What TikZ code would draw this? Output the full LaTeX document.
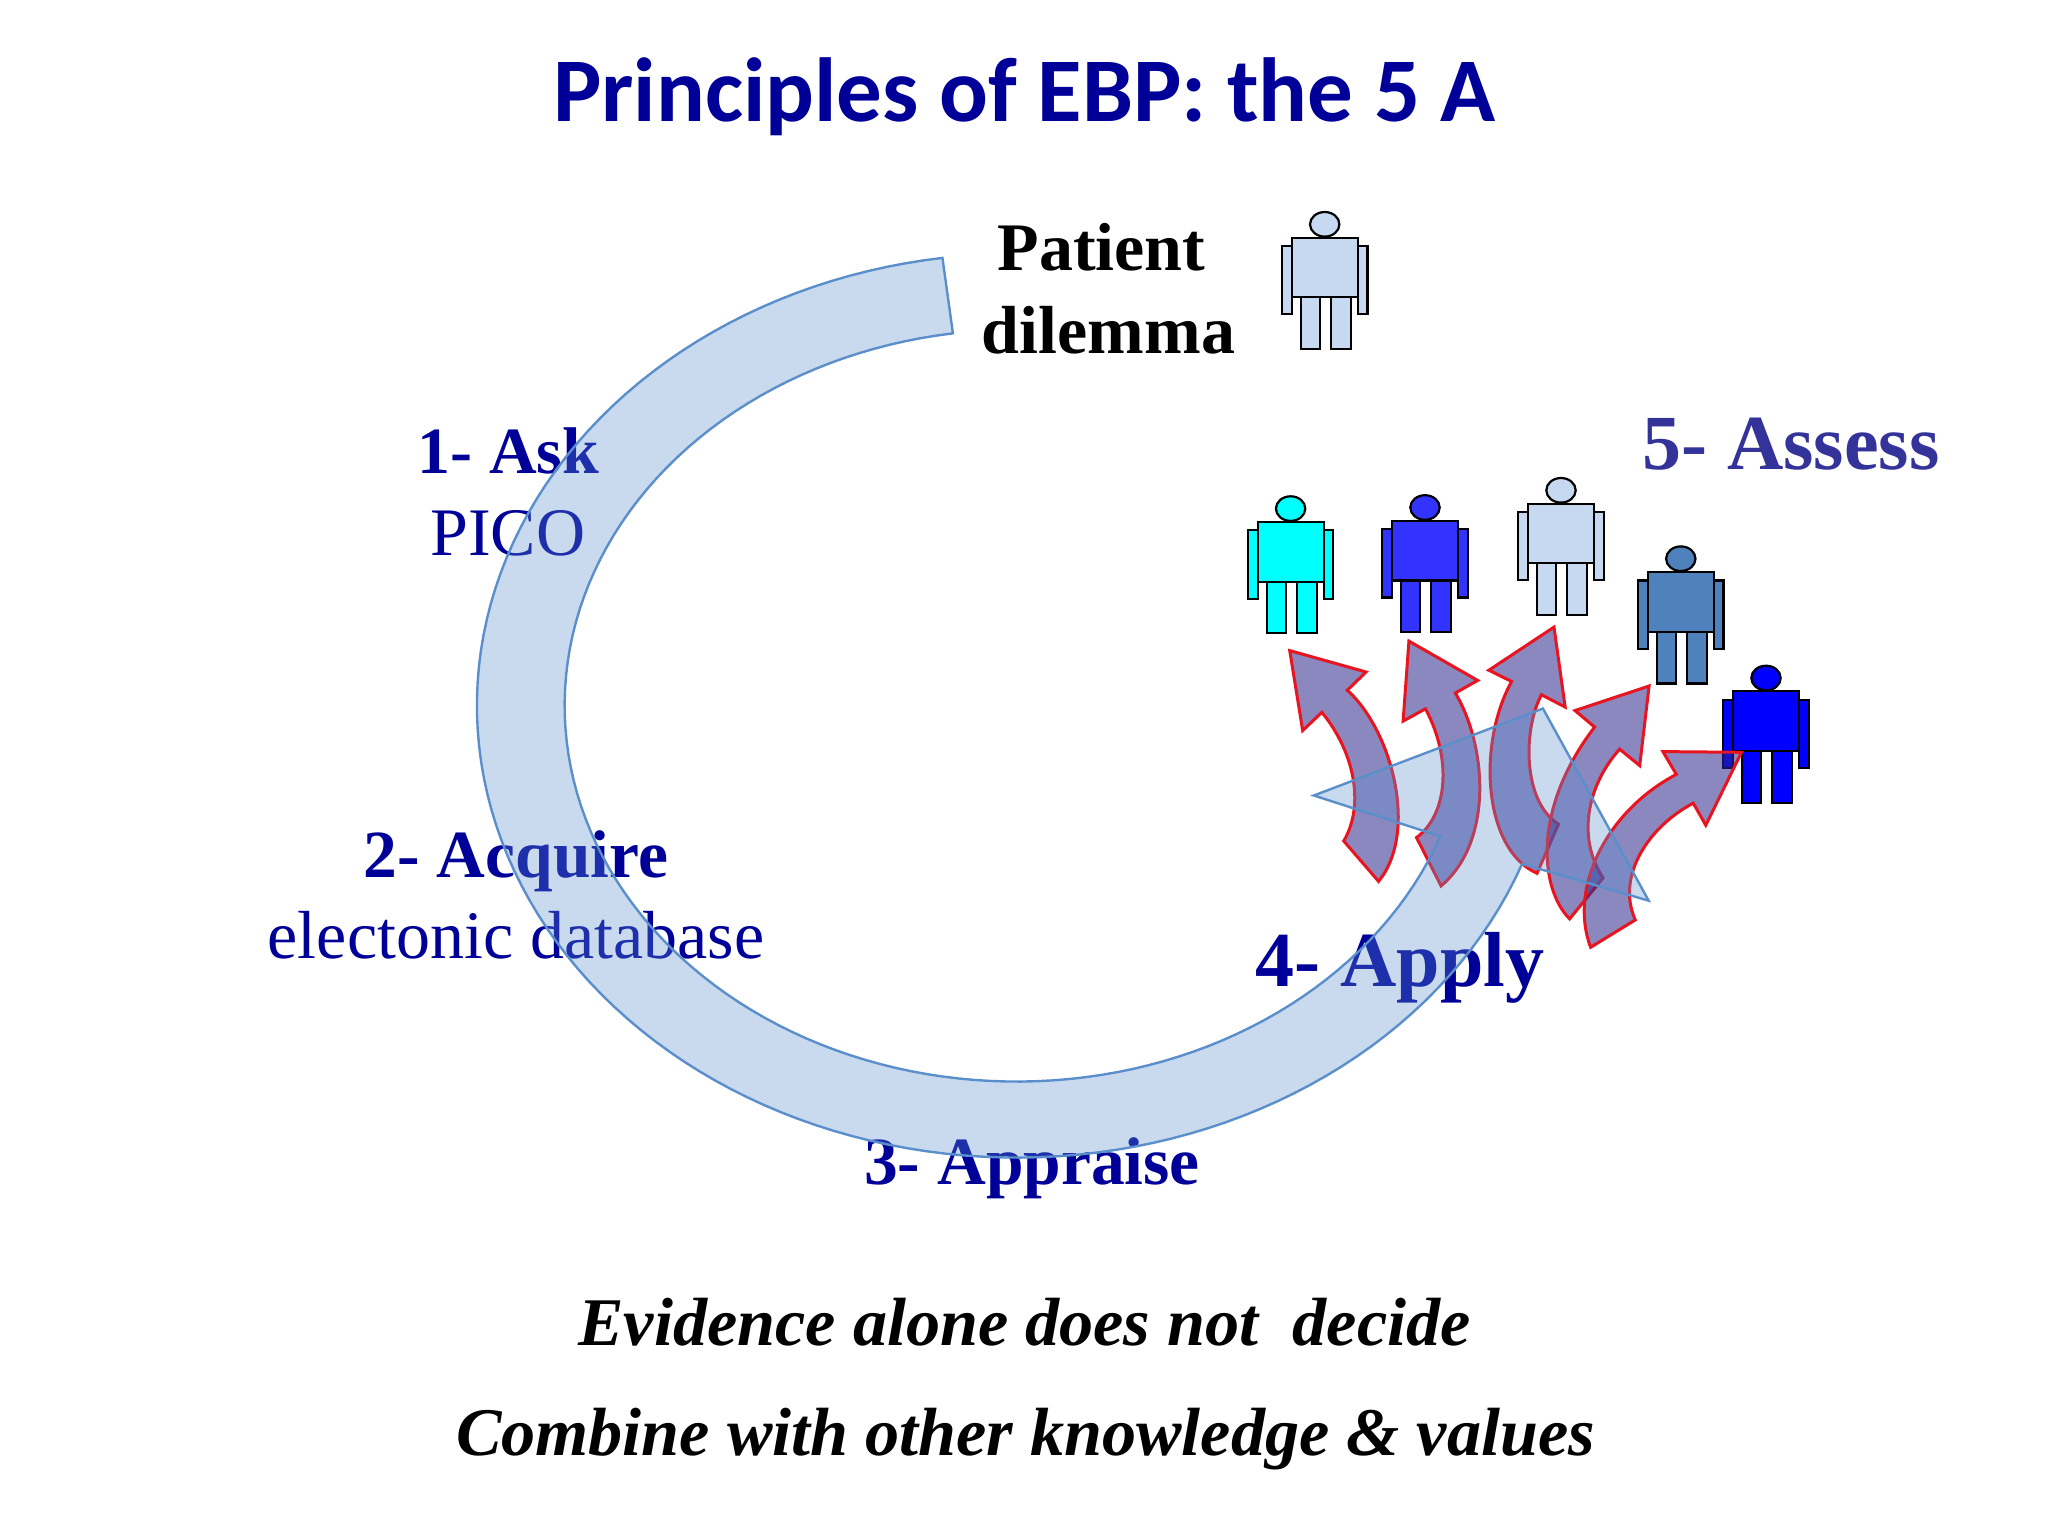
\documentclass[tikz,border=0pt]{standalone}
\usepackage{fontspec}
\setmainfont{Liberation Serif}
\newfontfamily\titlefont{Carlito}
\definecolor{navy}{HTML}{000099}
\definecolor{assess}{HTML}{333399}
\definecolor{ringfill}{HTML}{5E91D1}
\definecolor{ringline}{HTML}{5B8FCB}
\definecolor{arrowred}{HTML}{E8141F}
\definecolor{arrowfill}{HTML}{2A278C}
\definecolor{pcyan}{HTML}{00FFFF}
\definecolor{pblue}{HTML}{3333FF}
\definecolor{psteel}{HTML}{4F81BD}
\definecolor{ppure}{HTML}{0000FF}
\definecolor{ppale}{HTML}{C6D9F0}
\tikzset{
  txt/.style={inner sep=0pt,outer sep=0pt,anchor=base},
  lab/.style={txt,font=\fontsize{67.5}{68}\selectfont\bfseries,text=navy},
  sub/.style={txt,font=\fontsize{68}{68}\selectfont,text=navy},
  blackb/.style={txt,font=\fontsize{68}{68}\selectfont\bfseries,text=black},
  note/.style={txt,font=\fontsize{68.2}{68}\selectfont\bfseries\itshape,text=black},
  ringstyle/.style={fill=ringfill,fill opacity=.33,draw=ringline,draw opacity=1,line width=2.4pt,line join=miter},
  curved/.style={fill=arrowfill,fill opacity=.55,draw=arrowred,draw opacity=1,line width=3pt,line join=miter},
  pics/person/.style={code={
    \draw[fill=#1,draw=black,line width=2.2pt]
      (-42.7,21.7) rectangle (-33,90)
      (33,21.7) rectangle (42.7,90)
      (-24,73) rectangle (-5,124.7)
      (6,73) rectangle (26,124.7)
      (-33,13.3) rectangle (33,73);
    \draw[fill=#1,draw=black,line width=2.2pt] (0,0) ellipse [x radius=14.7pt,y radius=12.3pt];
  }}
}
\begin{document}
\begin{tikzpicture}[x=1pt,y=-1pt]
\useasboundingbox[fill=white] (0,0) rectangle (2048,1536);
% people
\pic at (1324.7,224.3) {person=ppale};
\pic at (1290.6,508.6) {person=pcyan};
\pic at (1425,507.5) {person=pblue};
\pic at (1561,490.3) {person=ppale};
\pic at (1680.8,558.7) {person=psteel};
\pic at (1766,678) {person=ppure};
% texts
\node[txt,font=\titlefont\fontsize{91}{91}\selectfont\bfseries,text=navy] (title) at (1024.5,122) {Principles of EBP: the 5 A};
\node[blackb] (patient) at (1101.5,270.8) {Patient};
\node[blackb] (dilemma) at (1108.5,353) {dilemma};
\node[txt,font=\fontsize{78}{78}\selectfont\bfseries,text=assess] (assess) at (1791,469) {5- Assess};
\node[txt,font=\fontsize{66}{66}\selectfont\bfseries,text=navy] (ask) at (508.5,473.5) {1- Ask};
\node[sub] (pico) at (508,555) {PICO};
\node[lab] (acquire) at (516,877) {2- Acquire};
\node[sub] (db) at (516,958.8) {electonic database};
\node[lab] (appraise) at (1032,1184) {3- Appraise};
\node[txt,font=\fontsize{78}{78}\selectfont\bfseries,text=navy] (apply) at (1400,986) {4- Apply};
\node[note] (n1) at (1024.5,1345) {Evidence alone does not\ \ decide};
\node[note] (n2) at (1025.5,1455) {Combine with other knowledge \& values};
% curved arrows, given in a local frame
\begin{scope}[xshift=1200pt,yshift=-450pt,x=.4464pt,y=-.3507pt]
\filldraw[curved] (201,572) -- (372,633) -- (330,685) .. controls (430,800) and (490,1090) .. (400,1230)
  -- (322,1115) .. controls (370,1010) and (345,860) .. (273,748) -- (230,800) -- cycle;
\filldraw[curved] (468,545) -- (622,657) -- (572,693) .. controls (645,850) and (655,1120) .. (540,1243)
  -- (485,1105) .. controls (555,1040) and (565,880) .. (505,738) -- (455,773) -- cycle;
\filldraw[curved] (793,505) -- (818,733) -- (765,698) .. controls (725,790) and (720,1000) .. (803,1067)
  -- (755,1207) .. controls (635,1140) and (620,840) .. (698,660) -- (647,628) -- cycle;
\filldraw[curved] (1006,673) -- (985,900) -- (940,853) .. controls (865,960) and (845,1110) .. (903,1220)
  -- (828,1337) .. controls (760,1250) and (745,1020) .. (884,790) -- (840,743) -- cycle;
\filldraw[curved] (1213,862) -- (1133,1070) -- (1105,1007) .. controls (1010,1070) and (930,1210) .. (975,1340)
  -- (875,1418) .. controls (825,1250) and (910,1030) .. (1067,925) -- (1037,860) -- cycle;
\end{scope}
% ring with arrow head, translucent and on top of everything
\draw[ringstyle]
  plot[domain=262.1:20.5,samples=120] ({1016.6+539.7*cos(\x)},{705.6+452*sin(\x)})
  -- (1648.7,900.7) -- (1542.9,708.5) -- (1313.8,795.5) -- (1438.8,835.8)
  -- plot[domain=20.3:261.9,samples=120] ({1016.6+452*cos(\x)},{705.6+376*sin(\x)})
  -- cycle;
\end{tikzpicture}
\end{document}
